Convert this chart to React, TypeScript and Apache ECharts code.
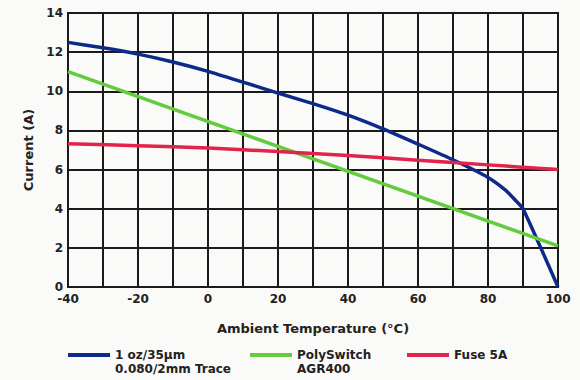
import React, { useEffect, useRef } from "react";
import * as echarts from "echarts";

const blueName = "1 oz/35µm\n0.080/2mm Trace";
const greenName = "PolySwitch\nAGR400";
const redName = "Fuse 5A";

const blueTemps = [-40, -30, -20, -10, 0, 10, 20, 30, 40, 50, 60, 70, 80, 85, 88, 90, 100];
const blueCurrent = [12.5, 12.22, 11.9, 11.5, 11.02, 10.47, 9.91, 9.37, 8.78, 8.08, 7.3, 6.5, 5.6, 4.95, 4.4, 4.0, 0];

const greenTemps = [-40, 100];
const greenCurrent = [11.0, 2.1];

const redTemps = [-40, -20, 0, 20, 40, 60, 80, 100];
const redCurrent = [7.32, 7.22, 7.1, 6.92, 6.72, 6.48, 6.24, 6.0];

const xTicks = [-40, -20, 0, 20, 40, 60, 80, 100];

const FONT = "DejaVu Sans";

export default function App() {
  const ref = useRef<HTMLDivElement>(null);
  useEffect(() => {
    if (!ref.current) return;
    const chart = echarts.init(ref.current, null, { renderer: "svg" });
    const pair = (xs: number[], ys: number[]) => xs.map((x, i) => [x, ys[i]]);
    const textStyle = {
      fontFamily: FONT,
      fontWeight: "bold" as const,
      fontSize: 12,
      color: "#222",
    };
    const legendCommon = {
      top: 348,
      padding: 0,
      itemWidth: 42,
      itemHeight: 4,
      icon: "rect",
      textStyle: { ...textStyle, lineHeight: 14 },
      formatter: (name: string) => name.split("\n")[0],
    };
    const legendLefts = [68, 250, 407];
    const names = [blueName, greenName, redName];
    chart.setOption({
      animation: false,
      backgroundColor: "#fafaf8",
      grid: { left: 68, right: 22, top: 13, bottom: 93, show: true, borderColor: "#1a1a1a", borderWidth: 2 },
      xAxis: {
        type: "value",
        min: -40,
        max: 100,
        interval: 10,
        name: "Ambient Temperature (°C)",
        nameLocation: "middle",
        nameGap: 35,
        nameTextStyle: { ...textStyle, fontSize: 13 },
        axisLine: { show: true, lineStyle: { color: "#1a1a1a", width: 2 } },
        axisTick: { show: false },
        axisLabel: {
          ...textStyle,
          margin: 6,
          formatter: (v: number) => (xTicks.includes(v) ? String(v) : ""),
        },
        splitLine: { show: true, lineStyle: { color: "#1a1a1a", width: 2 } },
      },
      yAxis: {
        type: "value",
        min: 0,
        max: 14,
        interval: 2,
        name: "Current (A)",
        nameLocation: "middle",
        nameGap: 33,
        nameTextStyle: { ...textStyle, fontSize: 13 },
        axisLine: { show: true, lineStyle: { color: "#1a1a1a", width: 2 } },
        axisTick: { show: false },
        axisLabel: { ...textStyle, margin: 5 },
        splitLine: { show: true, lineStyle: { color: "#1a1a1a", width: 2 } },
      },
      legend: names.map((n, i) => ({ ...legendCommon, left: legendLefts[i], data: [n] })),
      graphic: names
        .map((n, i) => ({ parts: n.split("\n"), i }))
        .filter((o) => o.parts.length > 1)
        .map((o) => ({
          type: "text",
          left: legendLefts[o.i] + 47,
          top: 363,
          style: { text: o.parts[1], font: `bold 12px "${FONT}"`, fill: "#222" },
        })),
      series: [
        {
          name: blueName,
          type: "line",
          data: pair(blueTemps, blueCurrent),
          smooth: 0.2,
          showSymbol: false,
          lineStyle: { color: "#0d2a8a", width: 3.5 },
          itemStyle: { color: "#0d2a8a" },
        },
        {
          name: greenName,
          type: "line",
          data: pair(greenTemps, greenCurrent),
          showSymbol: false,
          lineStyle: { color: "#62cc3c", width: 3.5 },
          itemStyle: { color: "#62cc3c" },
        },
        {
          name: redName,
          type: "line",
          data: pair(redTemps, redCurrent),
          smooth: 0.3,
          showSymbol: false,
          lineStyle: { color: "#e2234b", width: 3.5 },
          itemStyle: { color: "#e2234b" },
        },
      ],
    });
    return () => chart.dispose();
  }, []);
  return <div ref={ref} style={{ width: 580, height: 380, position: "fixed", left: 0, top: 0 }} />;
}
